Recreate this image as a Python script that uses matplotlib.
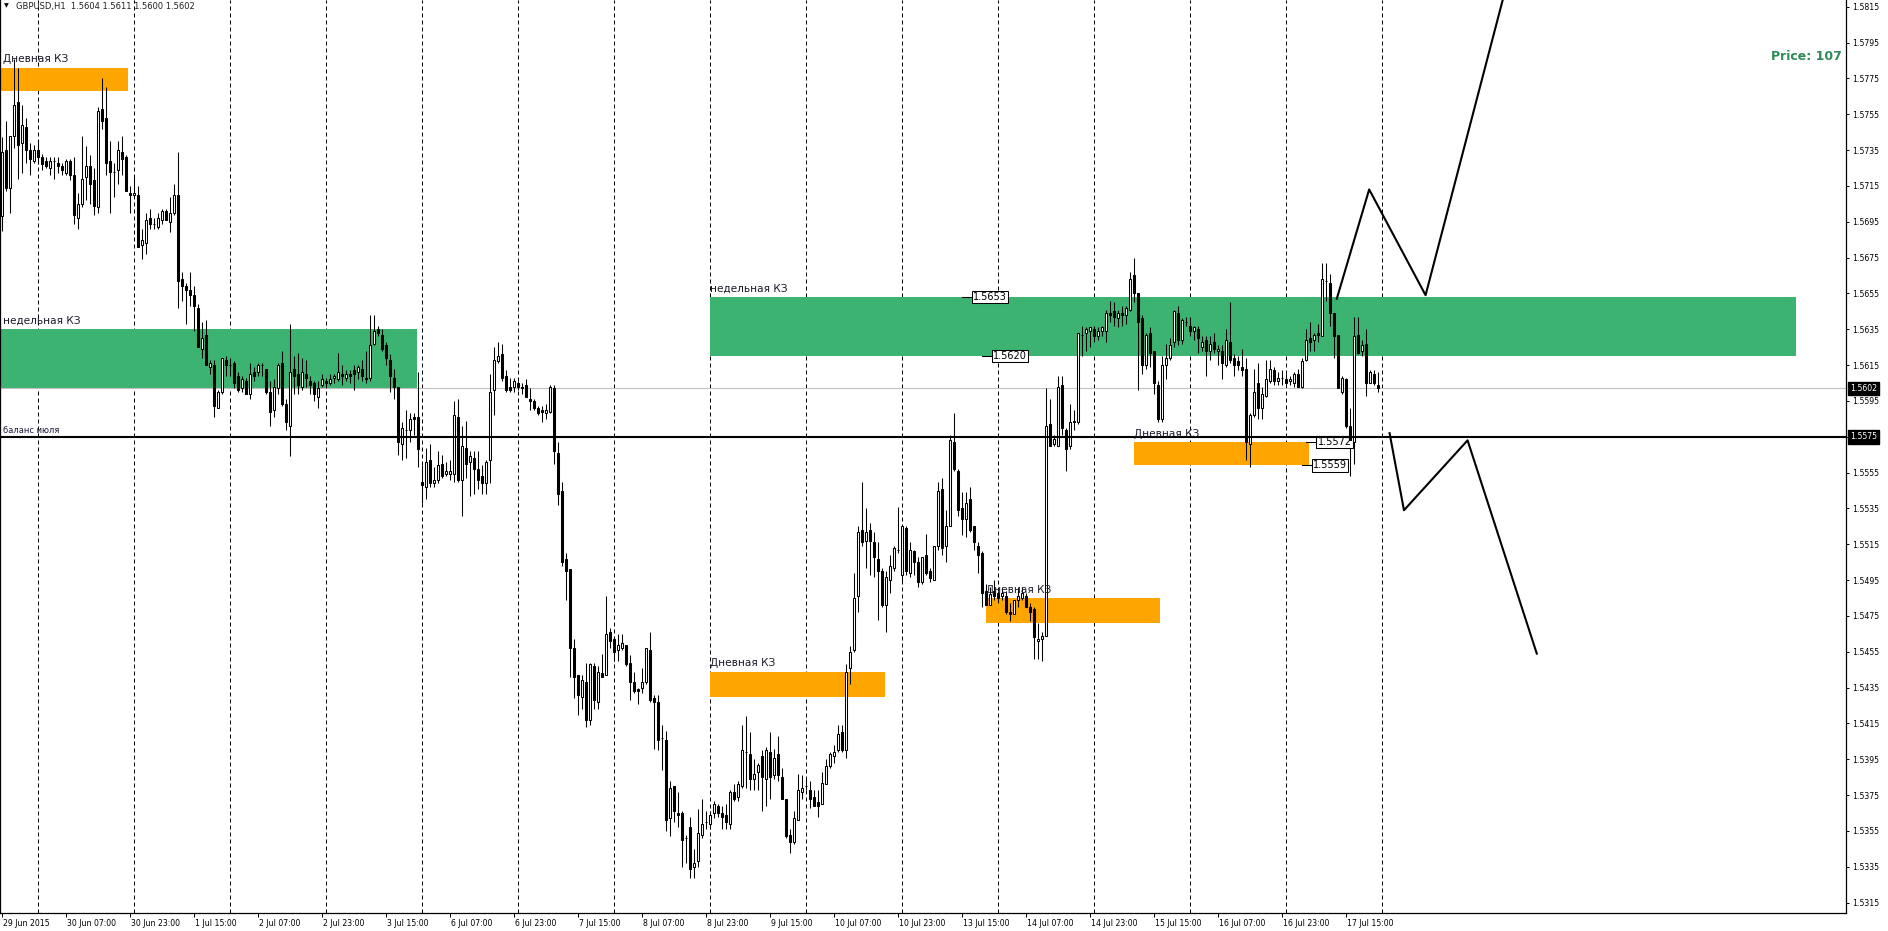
import matplotlib
matplotlib.use("Agg")
import matplotlib.pyplot as plt
import matplotlib.transforms as mtransforms
import numpy as np

# GBPUSD H1, 29 Jun 2015 15:00 .. 17 Jul 2015 23:00, prices in pips above 1.5000
opens = [
    698, 735, 714, 743, 762, 739, 748, 735, 729, 735, 731, 729, 725, 729, 728,
    726, 722, 729, 721, 697, 705, 720, 726, 718, 703, 758, 753, 729, 723, 724,
    734, 731, 711, 710, 710, 682, 683, 697, 694, 692, 696, 701, 695, 700, 710,
    663, 659, 657, 654, 647, 624, 632, 614, 615, 591, 600, 618, 615, 616, 609,
    602, 606, 599, 611, 611, 615, 613, 600, 590, 602, 616, 593, 581, 613, 610,
    603, 610, 606, 605, 597, 604, 606, 605, 608, 607, 610, 608, 610, 612, 611,
    613, 608, 608, 627, 635, 632, 626, 618, 608, 603, 571, 579, 579, 586, 586,
    550, 547, 562, 549, 551, 560, 554, 554, 554, 586, 551, 569, 561, 563, 557,
    553, 549, 562, 601, 617, 621, 609, 603, 603, 605, 603, 604, 596, 595, 591,
    590, 588, 589, 602, 566, 545, 507, 501, 457, 442, 430, 438, 417, 447, 427,
    443, 442, 466, 462, 456, 457, 459, 449, 438, 434, 435, 438, 456, 429, 427,
    407, 406, 362, 380, 365, 365, 351, 357, 335, 338, 353, 360, 359, 365, 369,
    365, 364, 359, 377, 374, 380, 399, 398, 384, 388, 397, 384, 399, 386, 398,
    385, 373, 353, 349, 361, 377, 380, 378, 374, 371, 370, 381, 391, 397, 400,
    410, 400, 446, 456, 486, 523, 517, 523, 516, 507, 500, 481, 495, 502, 512,
    498, 524, 499, 511, 505, 494, 509, 500, 495, 514, 546, 514, 525, 572, 556,
    535, 529, 540, 525, 514, 510, 489, 481, 489, 488, 486, 486, 477, 476, 484,
    485, 486, 480, 479, 461, 462, 464, 582, 571, 570, 604, 579, 570, 583, 583,
    632, 633, 634, 635, 631, 634, 634, 644, 645, 641, 644, 643, 646, 665, 655,
    641, 615, 633, 623, 604, 585, 615, 619, 628, 644, 629, 639, 637, 634, 635,
    625, 629, 623, 628, 623, 623, 615, 628, 619, 617, 614, 613, 571, 587, 605,
    591, 598, 606, 612, 606, 608, 607, 606, 605, 610, 603, 618, 630, 629, 633,
    631, 662, 661, 644, 632, 600, 607, 581, 572, 632, 623, 627, 605, 610, 604,
]
highs = [
    742, 751, 743, 786, 781, 760, 753, 739, 738, 740, 733, 731, 731, 731, 731,
    728, 730, 730, 731, 711, 743, 737, 732, 725, 759, 775, 770, 740, 728, 740,
    743, 732, 715, 721, 715, 691, 700, 702, 697, 700, 702, 702, 709, 716, 734,
    667, 661, 667, 659, 649, 639, 640, 618, 618, 601, 619, 620, 619, 617, 611,
    609, 608, 616, 614, 616, 616, 613, 606, 607, 616, 623, 596, 638, 620, 622,
    619, 618, 609, 606, 606, 610, 608, 610, 610, 622, 615, 612, 612, 615, 615,
    618, 623, 643, 643, 637, 635, 628, 621, 613, 603, 583, 590, 588, 588, 611,
    559, 569, 571, 558, 567, 565, 561, 562, 595, 596, 581, 584, 567, 567, 567,
    559, 562, 610, 625, 628, 627, 612, 608, 608, 606, 605, 607, 602, 596, 592,
    592, 593, 604, 604, 572, 550, 510, 501, 462, 442, 442, 449, 449, 449, 447,
    454, 486, 468, 462, 465, 465, 459, 453, 444, 435, 446, 457, 466, 431, 431,
    414, 411, 383, 380, 377, 366, 353, 363, 345, 367, 373, 366, 366, 372, 370,
    369, 370, 378, 381, 383, 414, 419, 410, 395, 393, 400, 402, 410, 401, 408,
    390, 373, 356, 366, 387, 386, 384, 383, 378, 378, 388, 395, 399, 403, 414,
    414, 448, 458, 499, 525, 550, 535, 527, 522, 516, 502, 500, 509, 514, 536,
    526, 525, 516, 512, 508, 508, 521, 502, 514, 550, 552, 534, 576, 588, 557,
    544, 544, 547, 525, 516, 511, 493, 491, 495, 489, 491, 489, 482, 484, 491,
    491, 488, 482, 480, 471, 466, 602, 596, 576, 609, 609, 580, 593, 590, 633,
    637, 636, 636, 637, 636, 637, 646, 651, 650, 646, 648, 648, 667, 675, 655,
    643, 633, 636, 623, 606, 620, 627, 630, 646, 648, 641, 642, 642, 637, 637,
    631, 631, 631, 633, 626, 626, 635, 650, 621, 620, 624, 619, 588, 613, 616,
    603, 618, 618, 614, 611, 612, 610, 609, 611, 613, 619, 635, 639, 633, 638,
    672, 672, 666, 644, 632, 609, 608, 591, 642, 642, 629, 635, 612, 612, 611,
]
lows = [
    690, 712, 700, 736, 719, 722, 728, 721, 728, 727, 724, 725, 721, 719, 722,
    721, 721, 718, 694, 691, 703, 707, 705, 699, 700, 747, 721, 700, 709, 716,
    721, 712, 700, 709, 681, 674, 677, 691, 691, 691, 694, 696, 689, 699, 647,
    651, 638, 648, 634, 625, 619, 615, 610, 586, 591, 599, 609, 609, 602, 600,
    600, 599, 596, 606, 609, 609, 599, 581, 586, 599, 592, 579, 564, 599, 599,
    601, 603, 599, 595, 591, 603, 602, 604, 605, 606, 604, 606, 605, 601, 607,
    606, 605, 606, 626, 631, 623, 615, 600, 596, 565, 562, 563, 572, 576, 558,
    538, 540, 547, 547, 549, 552, 553, 551, 550, 550, 531, 552, 542, 543, 546,
    543, 543, 549, 587, 616, 606, 600, 600, 600, 601, 599, 597, 590, 590, 587,
    583, 585, 588, 560, 537, 503, 484, 441, 429, 420, 423, 413, 414, 423, 423,
    441, 442, 457, 450, 450, 456, 447, 428, 432, 426, 432, 437, 427, 401, 400,
    389, 355, 352, 360, 357, 335, 337, 329, 329, 335, 351, 356, 356, 362, 363,
    356, 356, 356, 372, 372, 379, 379, 378, 378, 378, 366, 369, 373, 384, 383,
    373, 351, 343, 348, 361, 373, 378, 368, 369, 363, 370, 381, 390, 393, 399,
    399, 396, 437, 455, 477, 514, 502, 498, 497, 473, 480, 466, 488, 500, 510,
    494, 498, 497, 498, 491, 493, 498, 494, 495, 512, 509, 505, 525, 556, 531,
    520, 519, 522, 512, 499, 480, 481, 481, 484, 482, 484, 476, 472, 476, 480,
    484, 480, 472, 451, 451, 450, 464, 570, 570, 570, 576, 556, 568, 579, 582,
    620, 623, 625, 628, 629, 631, 628, 639, 637, 636, 637, 638, 645, 650, 601,
    610, 613, 614, 599, 583, 583, 607, 618, 625, 626, 627, 637, 631, 629, 622,
    623, 609, 618, 622, 615, 607, 614, 616, 609, 612, 609, 562, 558, 586, 585,
    585, 597, 605, 604, 604, 604, 603, 604, 603, 603, 602, 617, 623, 623, 628,
    631, 651, 637, 619, 602, 599, 580, 553, 560, 621, 620, 598, 605, 604, 600,
]
closes = [
    734, 714, 743, 760, 738, 749, 735, 730, 735, 731, 727, 726, 729, 729, 726,
    724, 729, 721, 699, 705, 719, 726, 716, 704, 757, 751, 728, 723, 723, 735,
    730, 712, 710, 711, 681, 685, 696, 694, 694, 697, 701, 696, 700, 710, 662,
    659, 657, 654, 648, 625, 630, 615, 616, 592, 600, 619, 615, 615, 605, 601,
    607, 599, 610, 609, 615, 615, 600, 589, 603, 615, 593, 583, 611, 609, 604,
    611, 608, 604, 599, 602, 607, 605, 607, 609, 611, 609, 610, 609, 610, 614,
    609, 607, 626, 634, 633, 624, 619, 609, 603, 572, 580, 579, 585, 585, 568,
    548, 561, 549, 551, 559, 553, 556, 556, 587, 551, 570, 560, 564, 557, 551,
    549, 561, 600, 618, 620, 608, 601, 601, 606, 603, 602, 597, 595, 591, 588,
    589, 590, 603, 567, 543, 505, 500, 457, 441, 431, 439, 417, 448, 428, 444,
    441, 465, 461, 455, 459, 460, 448, 438, 433, 433, 438, 457, 428, 427, 406,
    407, 361, 379, 366, 364, 350, 351, 334, 337, 354, 359, 360, 364, 370, 365,
    363, 360, 377, 373, 381, 400, 399, 384, 387, 392, 385, 400, 385, 396, 386,
    373, 352, 349, 362, 378, 379, 380, 373, 369, 369, 382, 391, 398, 399, 409,
    400, 444, 455, 485, 522, 516, 522, 517, 508, 500, 481, 497, 503, 513, 512,
    525, 500, 512, 505, 494, 508, 499, 496, 514, 545, 513, 525, 573, 557, 534,
    529, 538, 523, 516, 509, 488, 481, 487, 486, 485, 488, 477, 476, 484, 486,
    488, 480, 477, 463, 462, 464, 581, 570, 574, 603, 580, 568, 583, 584, 633,
    632, 635, 636, 631, 634, 636, 644, 643, 642, 644, 643, 647, 663, 655, 639,
    615, 632, 622, 605, 585, 615, 619, 626, 645, 629, 640, 639, 634, 636, 630,
    628, 623, 627, 624, 624, 616, 629, 618, 615, 615, 612, 572, 587, 600, 591,
    599, 607, 613, 606, 608, 608, 605, 607, 610, 603, 617, 629, 628, 632, 632,
    663, 662, 644, 631, 602, 608, 581, 573, 631, 622, 626, 605, 611, 605, 602,
]

# time axis labels: one every 16 bars
time_labels = ["29 Jun 2015", "30 Jun 07:00", "30 Jun 23:00", "1 Jul 15:00",
               "2 Jul 07:00", "2 Jul 23:00", "3 Jul 15:00", "6 Jul 07:00",
               "6 Jul 23:00", "7 Jul 15:00", "8 Jul 07:00", "8 Jul 23:00",
               "9 Jul 15:00", "10 Jul 07:00", "10 Jul 23:00", "13 Jul 15:00",
               "14 Jul 07:00", "14 Jul 23:00", "15 Jul 15:00", "16 Jul 07:00",
               "16 Jul 23:00", "17 Jul 15:00"]
day_starts = [9 + 24 * k for k in range(15)]   # bar index of each 00:00

# zones (bar index range, price range)
zone_start = [-0.4, -0.4, 177, 177, 246, 283]
zone_end = [31.6, 103.9, 448.6, 220.9, 289.6, 326.8]
zone_low = [1.5768, 1.5602, 1.5620, 1.5430, 1.5471, 1.5559]
zone_high = [1.5781, 1.5635, 1.5653, 1.5444, 1.5485, 1.5572]
zone_color = ["#ffa500", "#3cb371", "#3cb371", "#ffa500", "#ffa500", "#ffa500"]
zone_label = ["Дневная КЗ", "недельная КЗ", "недельная КЗ",
              "Дневная КЗ", "Дневная КЗ", "Дневная КЗ"]

# price tags
tag_start = [240.0, 245.0, 326.1, 325.0]
tag_price = [1.5653, 1.5620, 1.5572, 1.5559]

balance_level = 1.5575
last_price = 1.5602

# forecast zigzags
fc_up_i = [333.8, 341.9, 356.0, 376.6]
fc_up_p = [1.5652, 1.5713, 1.5654, 1.5830]
fc_dn_i = [347.0, 350.6, 366.5, 383.8]
fc_dn_p = [1.5577, 1.5534, 1.5573, 1.5454]

W, H = 1888, 931
fig = plt.figure(figsize=(W / 100, H / 100), dpi=100)
ax = fig.add_axes([0, 18 / H, 1846 / W, 913 / H])

o = 1.5 + np.array(opens) / 10000
h = 1.5 + np.array(highs) / 10000
l = 1.5 + np.array(lows) / 10000
c = 1.5 + np.array(closes) / 10000
x = np.arange(len(c))
up = c >= o

# day separators
for d in day_starts:
    ax.axvline(d, color="black", lw=0.72, ls=(0, (4, 3)), zorder=1)

# zones + labels
for s, e, lo, hi, col, lab in zip(zone_start, zone_end, zone_low, zone_high,
                                  zone_color, zone_label):
    ax.add_patch(plt.Rectangle((s, lo), e - s, hi - lo, facecolor=col,
                               edgecolor="none", zorder=2))
    ax.annotate(lab, xy=(max(s, 0.2), hi), xytext=(0.5, 2.5),
                textcoords="offset points", fontsize=7.6, color="#1a1a2a",
                ha="left", va="bottom", zorder=6)

# price lines
ax.axhline(last_price, color="#c0c0c0", lw=0.8, zorder=2.5)
ax.axhline(balance_level, color="black", lw=1.5, zorder=5)
ax.annotate("баланс июля", xy=(0.3, balance_level), xytext=(0, 1.5),
            textcoords="offset points", fontsize=6, color="#1a1a3a",
            ha="left", va="bottom", zorder=6)

# price tags with leader lines
for s, p in zip(tag_start, tag_price):
    ax.plot([s, s + 2.6], [p, p], color="black", lw=0.75, zorder=3.5)
    ax.annotate(f"{p:.4f}", xy=(s + 2.9, p), fontsize=7, color="black",
                ha="left", va="center", zorder=3.5,
                bbox=dict(boxstyle="square,pad=0.12", fc="white", ec="black", lw=0.75))

# candles
ax.vlines(x, l, h, color="black", lw=0.75, zorder=3)
ax.bar(x, np.abs(c - o), bottom=np.minimum(o, c), width=0.5,
       color=np.where(up, "white", "black"), edgecolor="black",
       linewidth=0.75, zorder=4)

# forecast
ax.plot(fc_up_i, fc_up_p, color="black", lw=1.5, zorder=6)
ax.plot(fc_dn_i, fc_dn_p, color="black", lw=1.5, zorder=6)

ax.set_xlim(-0.375, 461.1)
ax.set_ylim(1.530924, 1.581872)

# axes styling
for side in ["left", "right", "bottom"]:
    ax.spines[side].set_linewidth(0.9)
    ax.spines[side].set_color("black")
ax.spines["top"].set_visible(False)

ax.yaxis.tick_right()
yt = [1.5315 + 0.002 * k for k in range(26)]
ax.set_yticks(yt)
ax.set_yticklabels([f"{v:.4f}" for v in yt])
ax.tick_params(axis="y", direction="out", length=2.5, width=0.7, pad=2,
               labelsize=5.6, colors="black")

ax.set_xticks(np.arange(len(time_labels)) * 16)
ax.set_xticklabels(time_labels, ha="left")
ax.tick_params(axis="x", direction="out", length=3, width=0.7, pad=1.5,
               labelsize=5.6, colors="black")
shift = mtransforms.ScaledTranslation(1.5 / 100, 0, fig.dpi_scale_trans)
for t in ax.get_xticklabels():
    t.set_transform(t.get_transform() + shift)

# current price / balance boxes on the price scale
for p in [last_price, balance_level]:
    ax.annotate(f"{p:.4f}", xy=(1, p), xycoords=("axes fraction", "data"),
                xytext=(4, 0), textcoords="offset pixels", fontsize=5.6,
                color="white", ha="left", va="center", zorder=10,
                annotation_clip=False,
                bbox=dict(boxstyle="square,pad=0.3", fc="black", ec="black"))

fig.text(4 / W, 1 - 6 / H, "▼", fontsize=4.5, va="center", ha="left")
fig.text(16 / W, 1 - 6 / H, "GBPUSD,H1  1.5604 1.5611 1.5600 1.5602",
         fontsize=6, va="center", ha="left", color="#202020")
fig.text(1842 / W, 1 - 57 / H, "Price: 107", fontsize=9, fontweight="bold",
         color="#2e8b57", ha="right", va="center")

fig.savefig("out.png", dpi=100)
